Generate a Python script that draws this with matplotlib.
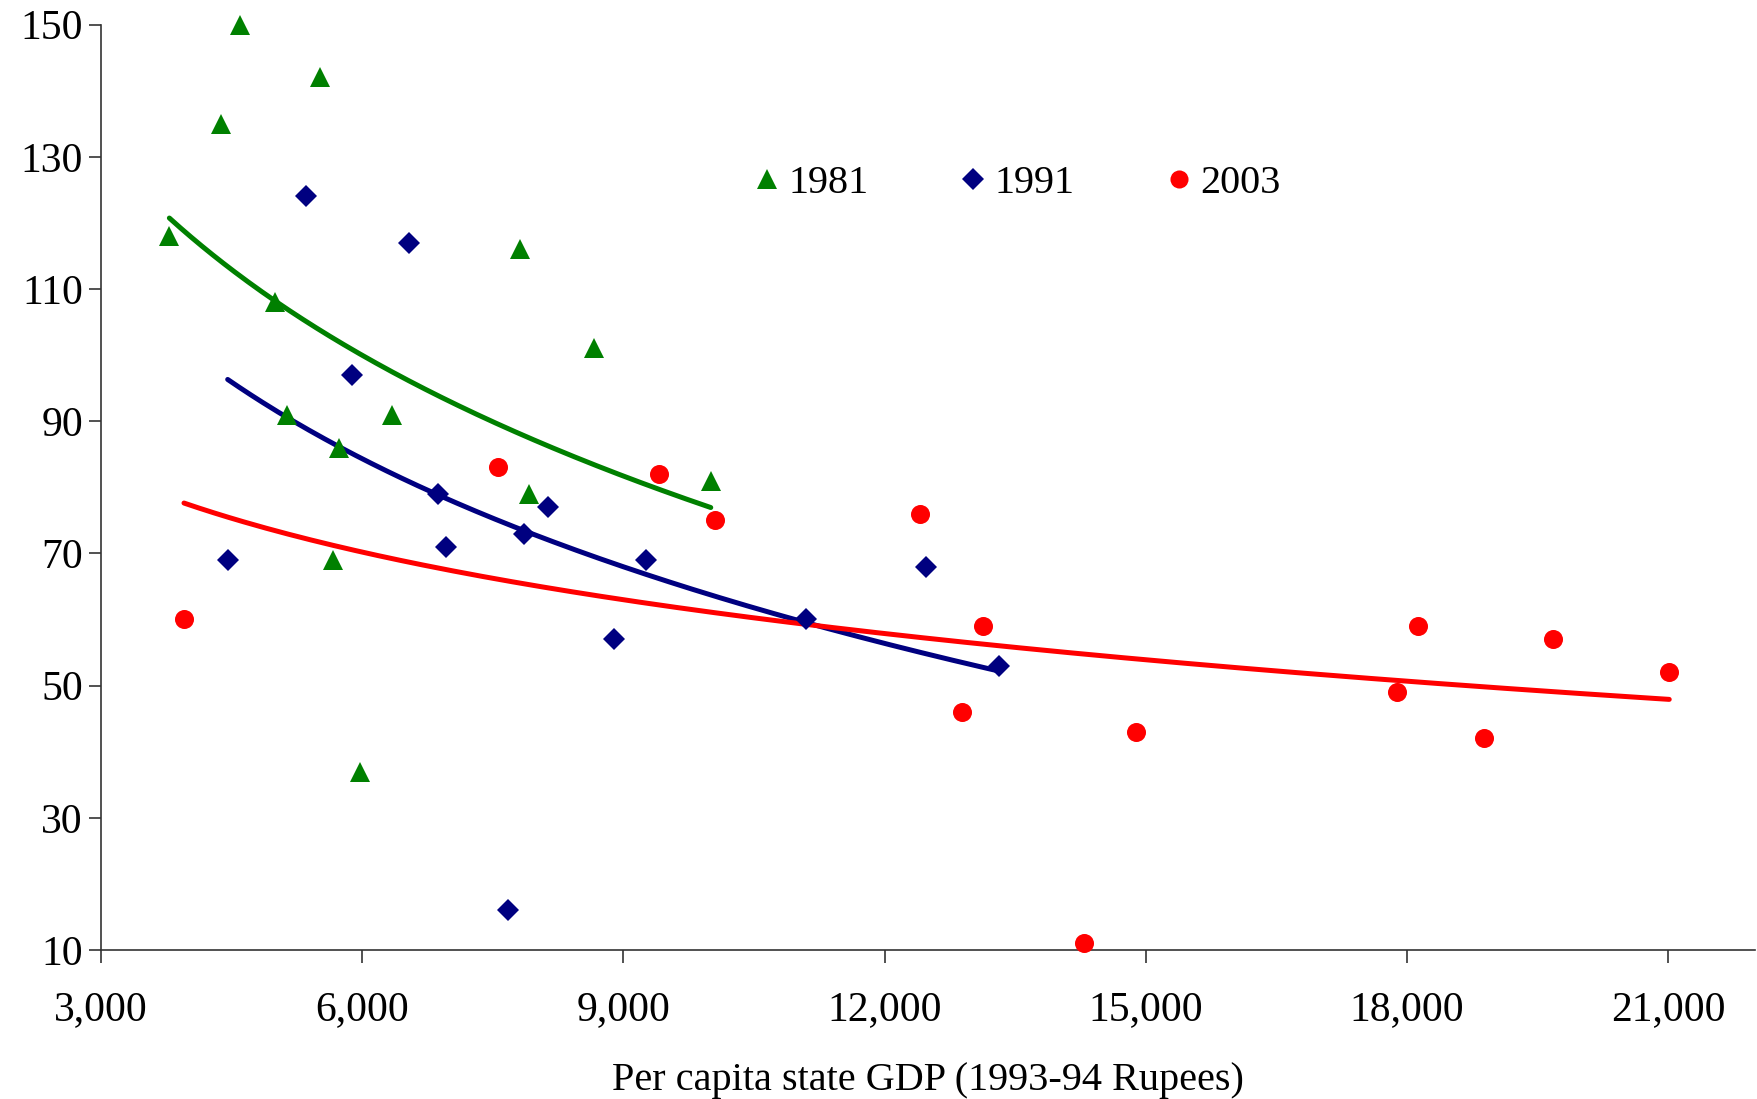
import numpy as np
import matplotlib
matplotlib.use("Agg")
import matplotlib.pyplot as plt
from matplotlib.ticker import FuncFormatter

# Data
gdp_1981 = [3785, 4378, 4597, 5511, 4996, 5137, 5730, 5665, 5974, 6348, 7816, 7918, 8665, 10004]
val_1981 = [118, 135, 150, 142, 108, 91, 86, 69, 37, 91, 116, 79, 101, 81]

gdp_1991 = [4455, 5356, 5884, 6541, 6876, 6966, 7674, 7854, 8138, 8897, 9258, 11099, 12477, 13314]
val_1991 = [69, 124, 97, 117, 79, 71, 16, 73, 77, 57, 69, 60, 68, 53]

gdp_2003 = [3953, 7558, 9412, 10056, 12413, 12889, 13134, 14292, 14885, 17885, 18130, 18889, 19675, 21014]
val_2003 = [60, 83, 82, 75, 76, 46, 59, 11, 43, 49, 59, 42, 57, 52]

x_ticks = [3000, 6000, 9000, 12000, 15000, 18000, 21000]
y_ticks = [10, 30, 50, 70, 90, 110, 130, 150]

plt.rcParams['font.family'] = ['Liberation Serif', 'DejaVu Serif']

fig = plt.figure(figsize=(17.57, 10.99), dpi=100)
ax = fig.add_axes([0.0575, 0.1356, 0.9414, 0.842])

series = [
    (gdp_1981, val_1981, '1981', '#008000', '^', 14.5),
    (gdp_1991, val_1991, '1991', '#000080', 'D', 11.5),
    (gdp_2003, val_2003, '2003', '#FF0000', 'o', 13.7),
]

handles = []
for xs, ys, lab, col, mk, ms in series:
    xs = np.array(xs, float); ys = np.array(ys, float)
    # logarithmic trendline: y = A + B ln(x)
    B, A = np.polyfit(np.log(xs), ys, 1)
    xf = np.linspace(xs.min(), xs.max(), 200)
    yf = A + B * np.log(xf)
    ax.plot(xf, yf, color=col, lw=3.6, solid_capstyle='round', zorder=2)
    h, = ax.plot(xs, ys, linestyle='none', marker=mk, color=col, markersize=ms,
                 markeredgewidth=0, label=lab, zorder=3, clip_on=False)
    handles.append(h)

ax.set_xlim(3000, 22000)
ax.set_ylim(10, 150)
ax.set_xticks(x_ticks)
ax.set_yticks(y_ticks)
ax.xaxis.set_major_formatter(FuncFormatter(lambda v, p: f"{int(v):,}"))

for s in ['top', 'right']:
    ax.spines[s].set_visible(False)
for s in ['left', 'bottom']:
    ax.spines[s].set_color('#333333')
    ax.spines[s].set_linewidth(1.2)
ax.tick_params(axis='both', direction='out', length=9, width=1.2, color='#333333',
               labelsize=30, labelcolor='black')
ax.tick_params(axis='x', pad=20)
ax.tick_params(axis='y', pad=4)

ax.set_xlabel('Per capita state GDP (1993-94 Rupees)', fontsize=29, labelpad=24)

leg = ax.legend(handles=handles, loc='center', bbox_to_anchor=(0.553, 0.828),
                ncol=3, frameon=False, fontsize=29, handlelength=0.8,
                handletextpad=0.12, columnspacing=2.2, markerscale=0.95)

fig.savefig('out.png', dpi=100)
